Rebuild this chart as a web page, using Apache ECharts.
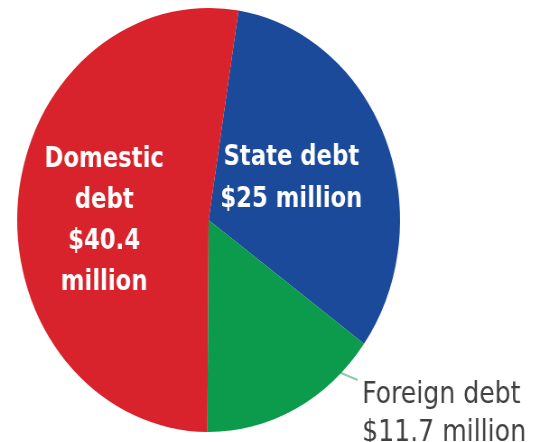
<!DOCTYPE html>
<html><head><meta charset="utf-8">
<script src="https://cdn.jsdelivr.net/npm/echarts@6/dist/echarts.min.js"></script>
<style>
html,body{margin:0;padding:0;background:#fff;overflow:hidden}
#wrap{width:534px;height:442px;overflow:hidden;position:relative}
#c{width:591px;height:442px;transform:scaleX(0.903);transform-origin:0 0;position:absolute;left:0;top:0}
</style>
</head><body><div id="wrap"><div id="c"></div></div>
<script>
const categories = ['State debt', 'Foreign debt', 'Domestic debt'];
const values = [25, 11.7, 40.4];
const labelTexts = ['State debt\n$25 million', 'Foreign debt\n$11.7 million', 'Domestic\ndebt\n$40.4\nmillion'];
const colors = ['#1c4a9b', '#0c9a4c', '#d8232c'];

const font = "'DejaVu Sans Condensed', 'Liberation Sans Narrow', sans-serif";
const labelStyles = [
  { position: 'inside', color: '#fff', fontWeight: 'bold', fontSize: 28, lineHeight: 42, offset: [-9, 1] },
  { position: 'outside', color: '#404040', fontWeight: 'normal', fontSize: 31, lineHeight: 38, align: 'left' },
  { position: 'inside', color: '#fff', fontWeight: 'bold', fontSize: 28, lineHeight: 41, offset: [-7, 10] }
];

const chart = echarts.init(document.getElementById('c'), null, { renderer: 'canvas' });
chart.setOption({
  backgroundColor: '#fff',
  animation: false,
  series: [{
    type: 'pie',
    center: [231, 220],
    radius: 212,
    startAngle: 81,
    clockwise: true,
    avoidLabelOverlap: false,
    labelLine: { showAbove: true, lineStyle: { color: '#8fcaa5', width: 2 } },
    data: categories.map((name, i) => ({
      name: name,
      value: values[i],
      itemStyle: { color: colors[i] },
      label: Object.assign({ show: true, fontFamily: font, formatter: labelTexts[i] }, labelStyles[i]),
      labelLine: { show: i === 1, showAbove: true, lineStyle: { color: '#8fcaa5', width: 2 } }
    })),
    labelLayout: function (params) {
      if (params.dataIndex === 1) {
        return {
          x: 401, y: 414, align: 'left', verticalAlign: 'middle',
          labelLinePoints: [[343, 358], [370, 370], [396, 380]]
        };
      }
      return {};
    }
  }]
});
</script></body></html>
